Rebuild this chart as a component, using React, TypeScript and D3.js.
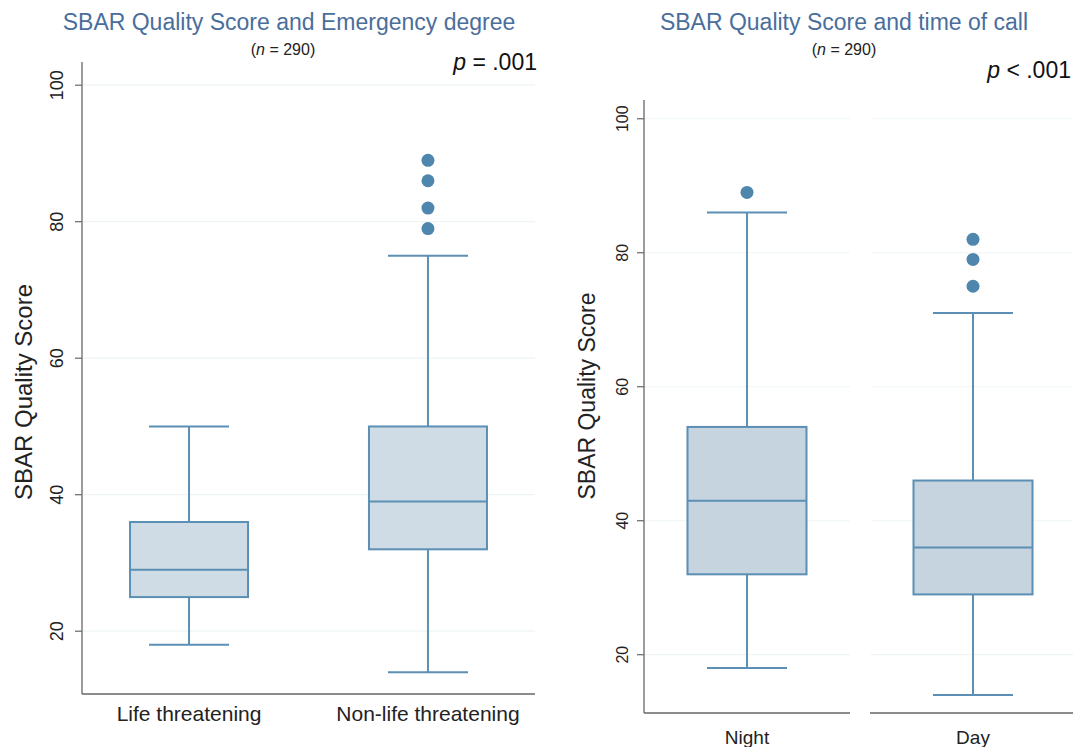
//@ts-nocheck
import * as d3 from "d3";
import { useEffect, useRef } from "react";

// left panel: emergency degree
const emergCategories = ["Life threatening", "Non-life threatening"];
const emergWhiskerLow = [18, 14];
const emergQ1 = [25, 32];
const emergMedian = [29, 39];
const emergQ3 = [36, 50];
const emergWhiskerHigh = [50, 75];
const emergOutliers = [[], [79, 82, 86, 89]];

// right panel: time of call
const timeCategories = ["Night", "Day"];
const timeWhiskerLow = [18, 14];
const timeQ1 = [32, 29];
const timeMedian = [43, 36];
const timeQ3 = [54, 46];
const timeWhiskerHigh = [86, 71];
const timeOutliers = [[89], [75, 79, 82]];

const yTicks = [20, 40, 60, 80, 100];

const FONT = "'Liberation Sans', Arial, Helvetica, sans-serif";
const TITLE_COLOR = "#4a6e9c";
const STROKE = "#5b8fb4";
const DOT = "#4f86ad";
const GRID = "#eef4f4";
const AXIS = "#666";

const App = () => {
  const ref = useRef(null);

  useEffect(() => {
    const svg = d3.select(ref.current);
    svg.selectAll("*").remove();
    svg.style("font-family", FONT);

    // ---------- left panel ----------
    const yL = d3.scaleLinear().domain([10.8, 103.4]).range([694, 62]);
    const xL = d3.scalePoint().domain(emergCategories).range([82, 535]).padding(0.448);

    const gL = svg.append("g");
    gL.selectAll("line.grid").data(yTicks).enter().append("line")
      .attr("x1", 83).attr("x2", 535)
      .attr("y1", d => yL(d)).attr("y2", d => yL(d))
      .attr("stroke", GRID).attr("stroke-width", 1.2);

    drawBoxes(gL, emergCategories, xL, yL, 118, 80, {
      lo: emergWhiskerLow, q1: emergQ1, med: emergMedian, q3: emergQ3, hi: emergWhiskerHigh, out: emergOutliers
    }, "#d0dce5");

    // axes
    gL.append("line").attr("x1", 82).attr("x2", 82).attr("y1", 62).attr("y2", 694)
      .attr("stroke", AXIS).attr("stroke-width", 1.3);
    gL.append("line").attr("x1", 82).attr("x2", 535).attr("y1", 694).attr("y2", 694)
      .attr("stroke", AXIS).attr("stroke-width", 1.3);
    gL.selectAll("line.tick").data(yTicks).enter().append("line")
      .attr("x1", 75).attr("x2", 82)
      .attr("y1", d => yL(d)).attr("y2", d => yL(d))
      .attr("stroke", AXIS).attr("stroke-width", 1.2);
    gL.selectAll("text.tick").data(yTicks).enter().append("text")
      .attr("transform", d => `translate(63,${yL(d)}) rotate(-90)`)
      .attr("text-anchor", "middle")
      .style("font-size", "18px").attr("fill", "#222")
      .text(d => d);
    gL.selectAll("text.cat").data(emergCategories).enter().append("text")
      .attr("x", d => xL(d)).attr("y", 721)
      .attr("text-anchor", "middle")
      .style("font-size", "21px").attr("fill", "#222")
      .text(d => d);
    gL.append("text")
      .attr("transform", "translate(32,392) rotate(-90)")
      .attr("text-anchor", "middle").style("font-size", "24px").attr("fill", "#222")
      .text("SBAR Quality Score");
    gL.append("text").attr("x", 289).attr("y", 30).attr("text-anchor", "middle")
      .style("font-size", "23px").attr("fill", TITLE_COLOR)
      .text("SBAR Quality Score and Emergency degree");
    const nL = gL.append("text").attr("x", 283).attr("y", 55).attr("text-anchor", "middle")
      .style("font-size", "16px").attr("fill", "#222");
    nL.append("tspan").text("(");
    nL.append("tspan").style("font-style", "italic").text("n");
    nL.append("tspan").text(" = 290)");
    const pL = gL.append("text").attr("x", 537).attr("y", 70).attr("text-anchor", "end")
      .style("font-size", "23px").attr("fill", "#111");
    pL.append("tspan").style("font-style", "italic").text("p");
    pL.append("tspan").text(" = .001");

    // ---------- right panel ----------
    const yR = d3.scaleLinear().domain([11.3, 102.8]).range([713, 100]);
    const xR = d3.scaleBand().domain(timeCategories).range([644, 1076]).paddingInner(0.0885);

    const gR = svg.append("g");
    timeCategories.forEach(c => {
      gR.selectAll(null).data(yTicks).enter().append("line")
        .attr("x1", xR(c) + 1).attr("x2", xR(c) + xR.bandwidth())
        .attr("y1", d => yR(d)).attr("y2", d => yR(d))
        .attr("stroke", GRID).attr("stroke-width", 1.2);
    });

    const xRc = d => xR(d) + xR.bandwidth() / 2;
    drawBoxes(gR, timeCategories, xRc, yR, 119, 80, {
      lo: timeWhiskerLow, q1: timeQ1, med: timeMedian, q3: timeQ3, hi: timeWhiskerHigh, out: timeOutliers
    }, "#c6d4df");

    gR.append("line").attr("x1", 644).attr("x2", 644).attr("y1", 100).attr("y2", 713)
      .attr("stroke", AXIS).attr("stroke-width", 1.3);
    timeCategories.forEach(c => {
      gR.append("line").attr("x1", xR(c)).attr("x2", xR(c) + xR.bandwidth())
        .attr("y1", 713).attr("y2", 713)
        .attr("stroke", AXIS).attr("stroke-width", 1.3);
    });
    gR.selectAll("line.tick").data(yTicks).enter().append("line")
      .attr("x1", 637).attr("x2", 644)
      .attr("y1", d => yR(d)).attr("y2", d => yR(d))
      .attr("stroke", AXIS).attr("stroke-width", 1.2);
    gR.selectAll("text.tick").data(yTicks).enter().append("text")
      .attr("transform", d => `translate(628,${yR(d)}) rotate(-90)`)
      .attr("text-anchor", "middle")
      .style("font-size", "16px").attr("fill", "#222")
      .text(d => d);
    gR.selectAll("text.cat").data(timeCategories).enter().append("text")
      .attr("x", d => xRc(d)).attr("y", 744)
      .attr("text-anchor", "middle")
      .style("font-size", "19px").attr("fill", "#222")
      .text(d => d);
    gR.append("text")
      .attr("transform", "translate(595,396) rotate(-90)")
      .attr("text-anchor", "middle").style("font-size", "23px").attr("fill", "#222")
      .text("SBAR Quality Score");
    gR.append("text").attr("x", 844).attr("y", 30).attr("text-anchor", "middle")
      .style("font-size", "23px").attr("fill", TITLE_COLOR)
      .text("SBAR Quality Score and time of call");
    const nR = gR.append("text").attr("x", 844).attr("y", 55).attr("text-anchor", "middle")
      .style("font-size", "16px").attr("fill", "#222");
    nR.append("tspan").text("(");
    nR.append("tspan").style("font-style", "italic").text("n");
    nR.append("tspan").text(" = 290)");
    const pR = gR.append("text").attr("x", 1071).attr("y", 78).attr("text-anchor", "end")
      .style("font-size", "23px").attr("fill", "#111");
    pR.append("tspan").style("font-style", "italic").text("p");
    pR.append("tspan").text(" < .001");
  }, []);

  return (
    <svg ref={ref} width={1073} height={747} style={{ position: "absolute", left: 0, top: 0, background: "#fff" }}></svg>
  );
};

// box + whiskers + outliers for each category
const drawBoxes = (g, cats, x, y, boxW, capW, s, fill) => {
  cats.forEach((c, i) => {
    const cx = x(c);
    const grp = g.append("g").attr("stroke", STROKE).attr("stroke-width", 2);
    grp.append("line").attr("x1", cx).attr("x2", cx).attr("y1", y(s.lo[i])).attr("y2", y(s.q1[i]));
    grp.append("line").attr("x1", cx).attr("x2", cx).attr("y1", y(s.q3[i])).attr("y2", y(s.hi[i]));
    grp.append("line").attr("x1", cx - capW / 2).attr("x2", cx + capW / 2).attr("y1", y(s.lo[i])).attr("y2", y(s.lo[i]));
    grp.append("line").attr("x1", cx - capW / 2).attr("x2", cx + capW / 2).attr("y1", y(s.hi[i])).attr("y2", y(s.hi[i]));
    grp.append("rect").attr("x", cx - boxW / 2).attr("width", boxW)
      .attr("y", y(s.q3[i])).attr("height", y(s.q1[i]) - y(s.q3[i]))
      .attr("fill", fill);
    grp.append("line").attr("x1", cx - boxW / 2).attr("x2", cx + boxW / 2).attr("y1", y(s.med[i])).attr("y2", y(s.med[i]));
    g.selectAll(null).data(s.out[i]).enter().append("circle")
      .attr("cx", cx).attr("cy", d => y(d)).attr("r", 6.5)
      .attr("fill", DOT);
  });
};

export default App;
